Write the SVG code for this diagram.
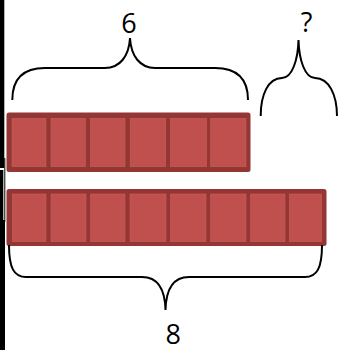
<svg xmlns="http://www.w3.org/2000/svg" width="338" height="350" viewBox="0 0 338 350">
<style>
.bar{fill:#943634}
.cell{fill:#C0504D;stroke:#C65F5C;stroke-width:0.6}
.brace{fill:none;stroke:#000;stroke-width:2}
.lbl{font-family:"Open Sans","DejaVu Sans",sans-serif;font-size:27px;fill:#000;text-anchor:middle}
</style>
<rect x="0" y="0" width="4.3" height="168" fill="#000"/>
<rect x="0" y="170" width="3.3" height="52" fill="#000"/>
<rect x="4.3" y="158" width="1" height="64" fill="#000"/>
<rect x="0" y="220" width="5" height="130" fill="#000"/>
<g id="top-bar">
<rect class="bar" x="6.5" y="112.5" width="244" height="59.5" rx="2.5"/>
<rect class="cell" x="12" y="118.3" width="34" height="48.4"/>
<rect class="cell" x="51" y="118.3" width="34.3" height="48.4"/>
<rect class="cell" x="90.5" y="118.3" width="34.5" height="48.4"/>
<rect class="cell" x="130.2" y="118.3" width="35.5" height="48.4"/>
<rect class="cell" x="170.5" y="118.3" width="36" height="48.4"/>
<rect class="cell" x="210.7" y="118.3" width="35.3" height="48.4"/>
</g>
<g id="bottom-bar">
<rect class="bar" x="6.5" y="189" width="320" height="57" rx="2.5"/>
<rect class="cell" x="12.3" y="194" width="33.7" height="47.7"/>
<rect class="cell" x="51" y="194" width="35" height="47.7"/>
<rect class="cell" x="90.7" y="194" width="34.3" height="47.7"/>
<rect class="cell" x="130" y="194" width="36" height="47.7"/>
<rect class="cell" x="170.5" y="194" width="35.5" height="47.7"/>
<rect class="cell" x="210.7" y="194" width="35.3" height="47.7"/>
<rect class="cell" x="250.7" y="194" width="34.3" height="47.7"/>
<rect class="cell" x="289.3" y="194" width="32.4" height="47.7"/>
</g>
<g id="connectors">
<path class="brace" d="M12.3,100 C12.3,80 22,68 45,68 L105,68 C120,68 129,56 130,38 C131,56 140,68 155,68 L215,68 C238,68 248,80 248,100"/>
<path class="brace" d="M260.7,116 C260.7,95 268,78 282,78 C292,78 298,60 298.5,40 C299,60 305,78 315,78 C329,78 337,95 337,116"/>
<path class="brace" d="M9,245 C9,268 14,277 26,277 L142,277 C158,277 165,290 165.5,310 C166,290 173,277 189,277 L305,277 C317,277 322,268 322,245"/>
</g>
<g id="label-6"><text class="lbl" x="129" y="33">6</text></g>
<g id="label-q"><text class="lbl" x="306.5" y="31.5">?</text></g>
<g id="label-8"><text class="lbl" x="173.3" y="343.5">8</text></g>
</svg>
